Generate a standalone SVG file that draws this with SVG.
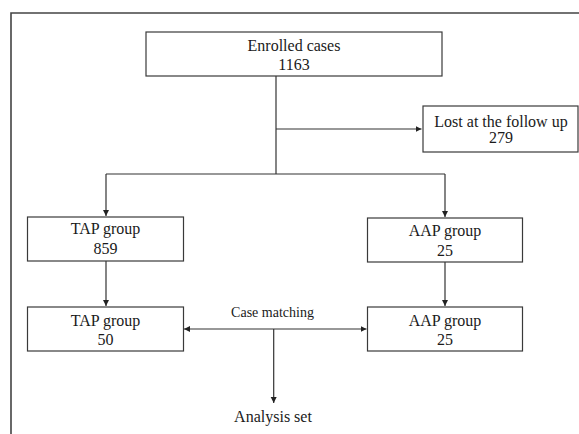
<svg xmlns="http://www.w3.org/2000/svg" width="579" height="434" viewBox="0 0 579 434">
<style>
.box{fill:#fff;stroke:#3a3a3a;stroke-width:1.2}
.t{font-family:"Liberation Serif","Times New Roman",serif;font-size:16px;fill:#1a1a1a;text-anchor:middle}
.s{font-size:14px}
.c{fill:none;stroke:#333;stroke-width:1.2}
</style>
<defs>
<marker id="ah" markerUnits="userSpaceOnUse" markerWidth="8" markerHeight="8" refX="6" refY="3" orient="auto-start-reverse">
<path d="M0,0 L6,3 L0,6 Z" fill="#222"/>
</marker>
</defs>
<rect x="0" y="0" width="579" height="434" fill="#fff"/>
<path d="M11,434 V13 H579" fill="none" stroke="#444" stroke-width="1.6"/>
<g id="connectors">
<path class="c" d="M276,76 V174"/>
<path class="c" d="M276,129 H421.5" marker-end="url(#ah)"/>
<path class="c" d="M106,174 H445"/>
<path class="c" d="M106,174 V216" marker-end="url(#ah)"/>
<path class="c" d="M445,174 V217" marker-end="url(#ah)"/>
<path class="c" d="M106,261 V306" marker-end="url(#ah)"/>
<path class="c" d="M445,262 V306" marker-end="url(#ah)"/>
<path class="c" d="M184,329 H366.5" marker-start="url(#ah)" marker-end="url(#ah)"/>
<path class="c" d="M273.7,329 V403" marker-end="url(#ah)"/>
<text class="t s" x="272.5" y="317">Case matching</text>
</g>
<g id="enrolled">
<rect class="box" x="146" y="32" width="296" height="44"/>
<text class="t" x="294" y="50.5">Enrolled cases</text>
<text class="t" x="294" y="69.5">1163</text>
</g>
<g id="lost">
<rect class="box" x="423" y="106" width="155" height="46"/>
<text class="t" x="501" y="126.5">Lost at the follow up</text>
<text class="t" x="501" y="142.5">279</text>
</g>
<g id="tap1">
<rect class="box" x="27.5" y="217" width="156" height="44"/>
<text class="t" x="105.5" y="234">TAP group</text>
<text class="t" x="105.5" y="254">859</text>
</g>
<g id="aap1">
<rect class="box" x="367.5" y="218" width="155" height="44"/>
<text class="t" x="445" y="236">AAP group</text>
<text class="t" x="445" y="256">25</text>
</g>
<g id="tap2">
<rect class="box" x="27.5" y="307" width="156" height="44"/>
<text class="t" x="105.5" y="326">TAP group</text>
<text class="t" x="105.5" y="345">50</text>
</g>
<g id="aap2">
<rect class="box" x="367.5" y="307" width="155" height="44"/>
<text class="t" x="445" y="326">AAP group</text>
<text class="t" x="445" y="345">25</text>
</g>
<g id="analysis">
<text class="t" x="273" y="421.5">Analysis set</text>
</g>
</svg>
